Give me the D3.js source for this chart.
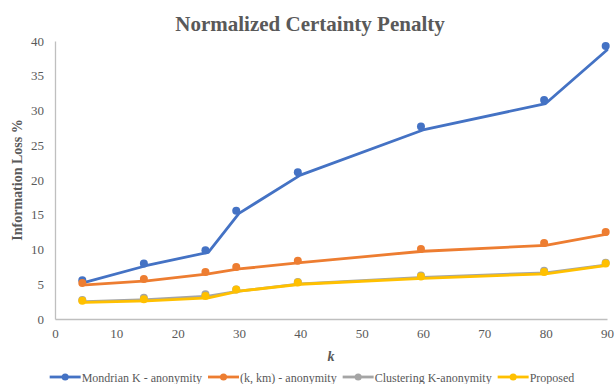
<!DOCTYPE html>
<html>
<head>
<meta charset="utf-8">
<script src="https://cdn.jsdelivr.net/npm/d3@7/dist/d3.min.js"></script>
<style>
  html, body { margin: 0; padding: 0; background: #fff; }
  svg { display: block; }
</style>
</head>
<body>
<svg id="chart" width="616" height="384"></svg>
<script>
// k values on the x axis
const kValues = [5, 15, 25, 30, 40, 60, 80, 90];

// Information loss (%) for each method
const mondrian   = [5.3, 7.7, 9.6, 15.2, 20.7, 27.2, 31.0, 38.7];
const kkm        = [4.9, 5.5, 6.5, 7.2, 8.1, 9.75, 10.6, 12.2];
const clustering = [2.5, 2.8, 3.3, 4.0, 5.05, 6.0, 6.65, 7.8];
const proposed   = [2.4, 2.6, 3.05, 4.0, 5.0, 5.85, 6.5, 7.7];

const seriesNames = ["Mondrian K - anonymity", "(k, km) - anonymity", "Clustering K-anonymity", "Proposed"];
const seriesColors = ["#4472C4", "#ED7D31", "#A5A5A5", "#FFC000"];
const seriesValues = [mondrian, kkm, clustering, proposed];

const xTicks = [0, 10, 20, 30, 40, 50, 60, 70, 80, 90];
const yTicks = [0, 5, 10, 15, 20, 25, 30, 35, 40];

const FONT = "'Liberation Serif', 'Times New Roman', Times, 'DejaVu Serif', serif";
const svg = d3.select("#chart").style("font-family", FONT);
const textColor = "#595959";
const axisColor = "#BFBFBF";

// plot area
const plotLeft = 55, plotRight = 607, plotTop = 41, plotBottom = 319;

const x = d3.scaleLinear().domain([0, 90]).range([plotLeft, plotRight]);
const y = d3.scaleLinear().domain([0, 40]).range([plotBottom, plotTop]);

// marker layer sits on its own, slightly shifted plot area
const xm = d3.scaleLinear().domain([0, 90]).range([51.5, 605.7]);
const ym = d3.scaleLinear().domain([0, 40]).range([317.5, 36.8]);

// title
svg.append("text")
  .attr("x", 310).attr("y", 31)
  .attr("text-anchor", "middle")
  .style("font-family", FONT)
  .style("font-size", "21px").style("font-weight", "bold")
  .attr("fill", textColor)
  .text("Normalized Certainty Penalty");

// axes
const xAxis = svg.append("g")
  .attr("transform", `translate(0,${plotBottom})`)
  .call(d3.axisBottom(x).tickValues(xTicks).tickSize(0).tickPadding(10));
xAxis.attr("font-family", null).attr("font-size", null);
xAxis.select(".domain").attr("stroke", axisColor).attr("stroke-width", 1.3);
xAxis.selectAll("text")
  .style("font-family", FONT).style("font-size", "13px").attr("fill", textColor);

const yAxis = svg.append("g")
  .attr("transform", `translate(${plotLeft},0)`)
  .call(d3.axisLeft(y).tickValues(yTicks).tickSize(0).tickPadding(11));
yAxis.attr("font-family", null).attr("font-size", null);
yAxis.select(".domain").attr("stroke", axisColor).attr("stroke-width", 1.3);
yAxis.selectAll("text")
  .style("font-family", FONT).style("font-size", "13px").attr("fill", textColor);

// axis titles
svg.append("text")
  .attr("transform", "translate(22,180) rotate(-90)")
  .attr("text-anchor", "middle")
  .style("font-family", FONT)
  .style("font-size", "14px").style("font-weight", "bold")
  .attr("fill", textColor)
  .text("Information Loss %");

svg.append("text")
  .attr("x", (plotLeft + plotRight) / 2).attr("y", 361)
  .attr("text-anchor", "middle")
  .style("font-family", FONT)
  .style("font-size", "14px").style("font-weight", "bold").style("font-style", "italic")
  .attr("fill", textColor)
  .text("k");

// lines
const line = d3.line().x(d => x(d[0])).y(d => y(d[1]));
seriesValues.forEach((vals, i) => {
  const pts = kValues.map((k, j) => [k, vals[j]]);
  svg.append("path")
    .datum(pts)
    .attr("d", line)
    .attr("fill", "none")
    .attr("stroke", seriesColors[i])
    .attr("stroke-width", 2.8)
    .attr("stroke-linejoin", "round")
    .attr("stroke-linecap", "round");
});

// markers
seriesValues.forEach((vals, i) => {
  svg.append("g").selectAll("circle")
    .data(kValues.map((k, j) => [k, vals[j]]))
    .join("circle")
    .attr("cx", d => xm(d[0]))
    .attr("cy", d => ym(d[1]))
    .attr("r", 4)
    .attr("fill", seriesColors[i]);
});

// legend
const legend = svg.append("g").attr("transform", "translate(0,377)");
const items = [];
seriesNames.forEach((name, i) => {
  const g = legend.append("g");
  g.append("line")
    .attr("x1", 0).attr("x2", 31).attr("y1", 0).attr("y2", 0)
    .attr("stroke", seriesColors[i]).attr("stroke-width", 2.8);
  g.append("circle").attr("cx", 15.5).attr("cy", 0).attr("r", 3.5).attr("fill", seriesColors[i]);
  const t = g.append("text")
    .attr("x", 32).attr("y", 4.5)
    .style("font-family", FONT)
    .style("font-size", "12px").attr("fill", textColor)
    .text(name);
  const w = 32 + t.node().getComputedTextLength();
  items.push({ g, w });
});
const gap = 6;
const total = d3.sum(items, d => d.w) + gap * (items.length - 1);
let legendX = 312 - total / 2;
items.forEach(it => {
  it.g.attr("transform", `translate(${legendX},0)`);
  legendX += it.w + gap;
});
</script>
</body>
</html>
